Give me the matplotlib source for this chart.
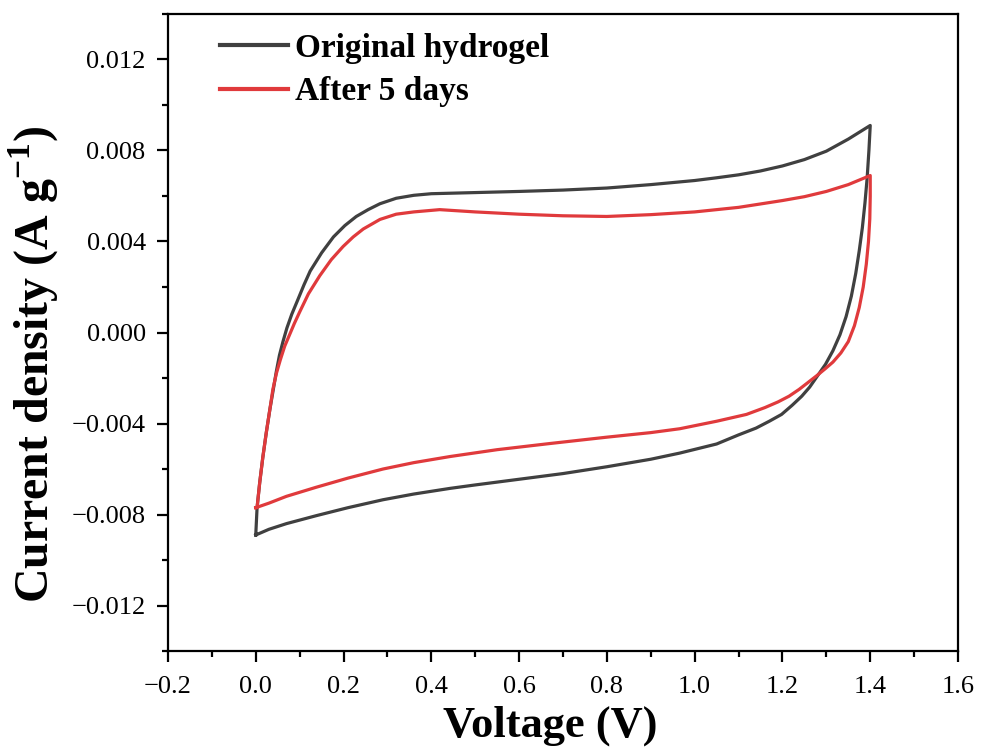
import matplotlib
matplotlib.use("Agg")
import matplotlib.pyplot as plt
from matplotlib.ticker import MultipleLocator

SERIF = "Liberation Serif"
plt.rcParams["mathtext.fontset"] = "custom"
plt.rcParams["mathtext.rm"] = SERIF
plt.rcParams["mathtext.bf"] = SERIF + ":bold"

# ---- data: CV loops (forward sweep then reverse sweep) ----
orig_v = [0.000, 0.003, 0.009, 0.016, 0.024, 0.032, 0.040, 0.047, 0.054, 0.062,
          0.071, 0.082, 0.095, 0.110, 0.124, 0.150, 0.177, 0.203, 0.229, 0.256,
          0.283, 0.320, 0.360, 0.400, 0.500, 0.600, 0.700, 0.800, 0.900, 1.000,
          1.050, 1.100, 1.150, 1.200, 1.250, 1.300, 1.350, 1.400,
          1.397, 1.393, 1.388, 1.382, 1.375, 1.367, 1.357, 1.345, 1.331, 1.315,
          1.298, 1.280, 1.262, 1.244, 1.222, 1.198, 1.170, 1.140, 1.100, 1.050,
          0.966, 0.900, 0.800, 0.700, 0.600, 0.500, 0.443, 0.360, 0.290, 0.210,
          0.138, 0.070, 0.030, 0.000]
orig_i = [-0.0089, -0.0077, -0.0066, -0.0055, -0.0044, -0.0034, -0.0025, -0.0017, -0.0010, -0.0004,
          0.0002, 0.0008, 0.0014, 0.0021, 0.0027, 0.0035, 0.0042, 0.0047, 0.0051, 0.0054,
          0.00566, 0.0059, 0.00603, 0.0061, 0.00615, 0.0062, 0.00626, 0.00635, 0.0065, 0.00668,
          0.0068, 0.00693, 0.0071, 0.00732, 0.0076, 0.00797, 0.0085, 0.0091,
          0.0080, 0.0068, 0.0057, 0.0046, 0.0036, 0.0026, 0.0016, 0.0007, -0.0001, -0.0008,
          -0.0014, -0.0019, -0.0024, -0.0028, -0.0032, -0.0036, -0.0039, -0.0042, -0.0045, -0.0049,
          -0.0053, -0.00557, -0.0059, -0.0062, -0.00645, -0.0067, -0.00685, -0.0071, -0.00735, -0.0077,
          -0.00805, -0.0084, -0.00865, -0.0089]

aged_v = [0.000, 0.003, 0.009, 0.016, 0.024, 0.032, 0.039, 0.047, 0.056, 0.066,
          0.077, 0.088, 0.100, 0.120, 0.146, 0.172, 0.199, 0.222, 0.245, 0.283,
          0.320, 0.360, 0.419, 0.500, 0.600, 0.700, 0.800, 0.900, 1.000, 1.100,
          1.150, 1.200, 1.250, 1.300, 1.350, 1.400,
          1.400, 1.399, 1.396, 1.391, 1.384, 1.375, 1.364, 1.350, 1.333, 1.315,
          1.297, 1.278, 1.258, 1.238, 1.215, 1.190, 1.160, 1.118, 1.050, 0.966,
          0.900, 0.800, 0.670, 0.550, 0.443, 0.360, 0.290, 0.210, 0.138, 0.070,
          0.030, 0.000]
aged_i = [-0.0077, -0.0077, -0.0066, -0.0055, -0.0044, -0.0034, -0.0025, -0.0018, -0.0012, -0.0006,
          -0.0001, 0.0004, 0.0009, 0.0017, 0.0025, 0.0032, 0.00378, 0.0042, 0.00455, 0.00497,
          0.0052, 0.0053, 0.0054, 0.0053, 0.0052, 0.00513, 0.0051, 0.00518, 0.0053, 0.0055,
          0.00565, 0.0058, 0.00597, 0.0062, 0.0065, 0.0069,
          0.0060, 0.0050, 0.0040, 0.0030, 0.0020, 0.0011, 0.0003, -0.0004, -0.0009, -0.0013,
          -0.0016, -0.0019, -0.0022, -0.0025, -0.0028, -0.00305, -0.0033, -0.0036, -0.0039, -0.00423,
          -0.0044, -0.0046, -0.00488, -0.00515, -0.00545, -0.00572, -0.0060, -0.0064, -0.0068, -0.0072,
          -0.0075, -0.0077]

labels = ["Original hydrogel", "After 5 days"]
colors = ["#404040", "#e03a3c"]

fig = plt.figure(figsize=(9.84, 7.55), dpi=100)
ax = fig.add_axes([0.1707, 0.1377, 0.8029, 0.8438])

ax.plot(orig_v, orig_i, color=colors[0], lw=2.3, label=labels[0],
        solid_joinstyle="round")
ax.plot(aged_v, aged_i, color=colors[1], lw=2.3, label=labels[1],
        solid_joinstyle="round")

ax.set_xlim(-0.2, 1.6)
ax.set_ylim(-0.014, 0.014)
ax.xaxis.set_major_locator(MultipleLocator(0.2))
ax.xaxis.set_minor_locator(MultipleLocator(0.1))
ax.yaxis.set_major_locator(MultipleLocator(0.004))
ax.yaxis.set_minor_locator(MultipleLocator(0.002))
ax.xaxis.set_major_formatter(plt.FuncFormatter(lambda v, p: f"{v:.1f}".replace("-", "\u2212")))
ax.yaxis.set_major_formatter(plt.FuncFormatter(lambda v, p: f"{v:.3f}".replace("-", "\u2212")))

for s in ax.spines.values():
    s.set_linewidth(1.6)
ax.tick_params(which="major", direction="out", length=8, width=1.6,
               labelsize=19, pad=8)
ax.tick_params(which="minor", direction="out", length=4, width=1.6)
ax.tick_params(axis="x", which="major", pad=10)
for lab in ax.get_xticklabels() + ax.get_yticklabels():
    lab.set_family(SERIF)

ax.set_xlabel("Voltage (V)", fontsize=32, fontweight="bold", family=SERIF)
ax.set_ylabel("Current density (A g$^{\\mathbf{-1}}$)", fontsize=34.5,
              fontweight="bold", family=SERIF)
ax.xaxis.set_label_coords(0.4835, -0.085)
ax.yaxis.set_label_coords(-0.136, 0.45)

leg = ax.legend(loc="upper left", bbox_to_anchor=(0.066, 0.970), frameon=False,
                prop={"family": SERIF, "weight": "bold", "size": 24},
                handlelength=2.05, handletextpad=0.2, labelspacing=0.37,
                borderpad=0, borderaxespad=0)
for line in leg.get_lines():
    line.set_linewidth(3)

fig.savefig("out.png", dpi=100)
